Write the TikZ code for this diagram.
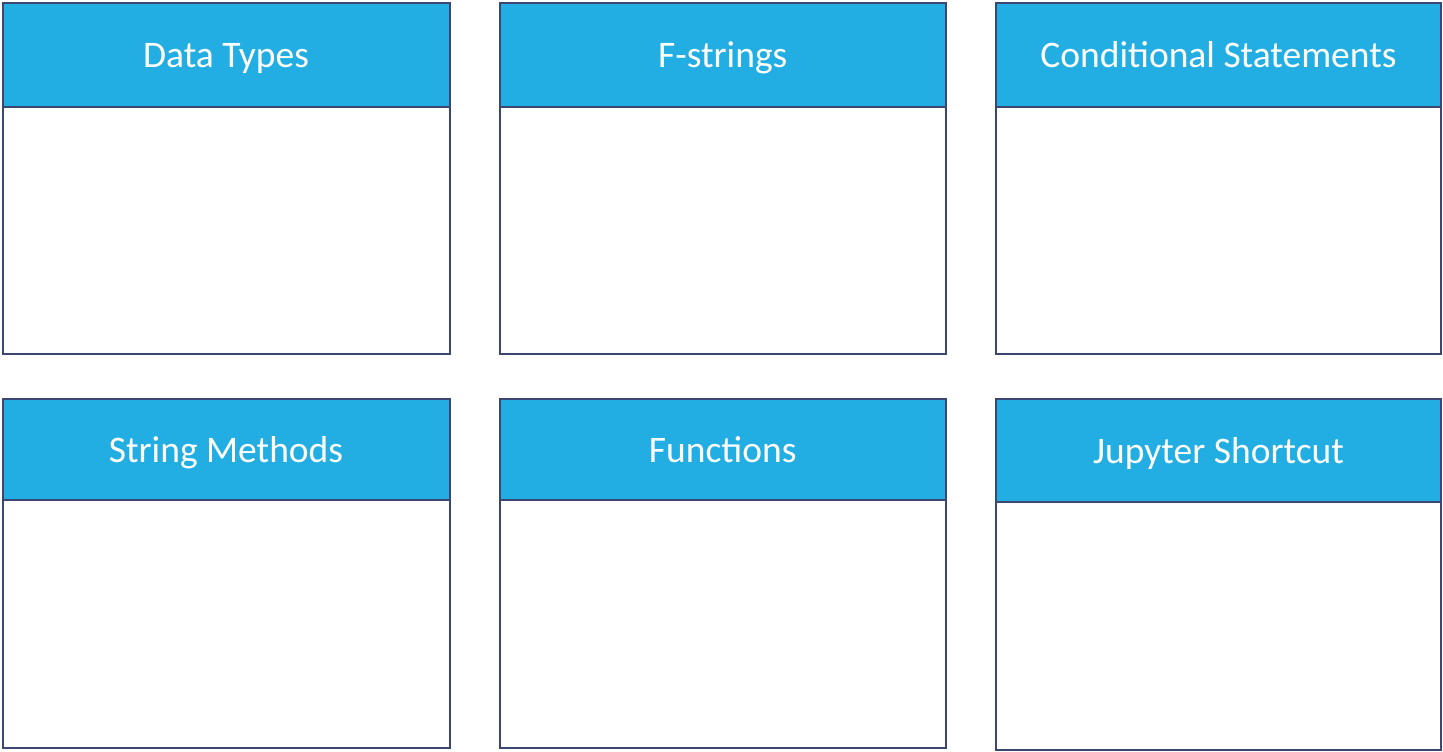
\documentclass[tikz,border=0pt]{standalone}
\usepackage{fontspec}
\setmainfont{Carlito}
\definecolor{headblue}{HTML}{22AEE2}
\definecolor{framenavy}{HTML}{3B4672}
\begin{document}
\begin{tikzpicture}[x=1pt,y=-1pt,
  head/.style={fill=headblue,draw=framenavy,line width=2pt},
  body/.style={fill=white,draw=framenavy,line width=2pt},
  title/.style={text=white,font=\fontsize{37.5}{44}\selectfont,anchor=base,inner sep=0pt}]
\useasboundingbox (0,0) rectangle (1443,752);
% card: #1 left, #2 top, #3 right, #4 header bottom, #5 bottom, #6 name, #7 title
\newcommand{\card}[7]{%
  \draw[body] (#1,#4) rectangle (#3,#5);
  \draw[head] (#1,#2) rectangle (#3,#4);
  \node[title] (#6) at ({(#1+#3)/2},{(#2+#4)/2+13}) {#7};
}
\card{2.5}{3.5}{449.5}{106.5}{354}{dt}{Data Types}
\card{500}{3.5}{945.5}{106.5}{354}{fs}{F-strings}
\card{996}{3.5}{1441}{106.5}{354}{cs}{Conditional Statements}
\card{2.5}{398.5}{449.5}{500}{748}{sm}{String Methods}
\card{500}{398.5}{945.5}{500}{748}{fn}{Functions}
\card{996}{398.5}{1441}{502}{750}{js}{Jupyter Shortcut}
\end{tikzpicture}
\end{document}
